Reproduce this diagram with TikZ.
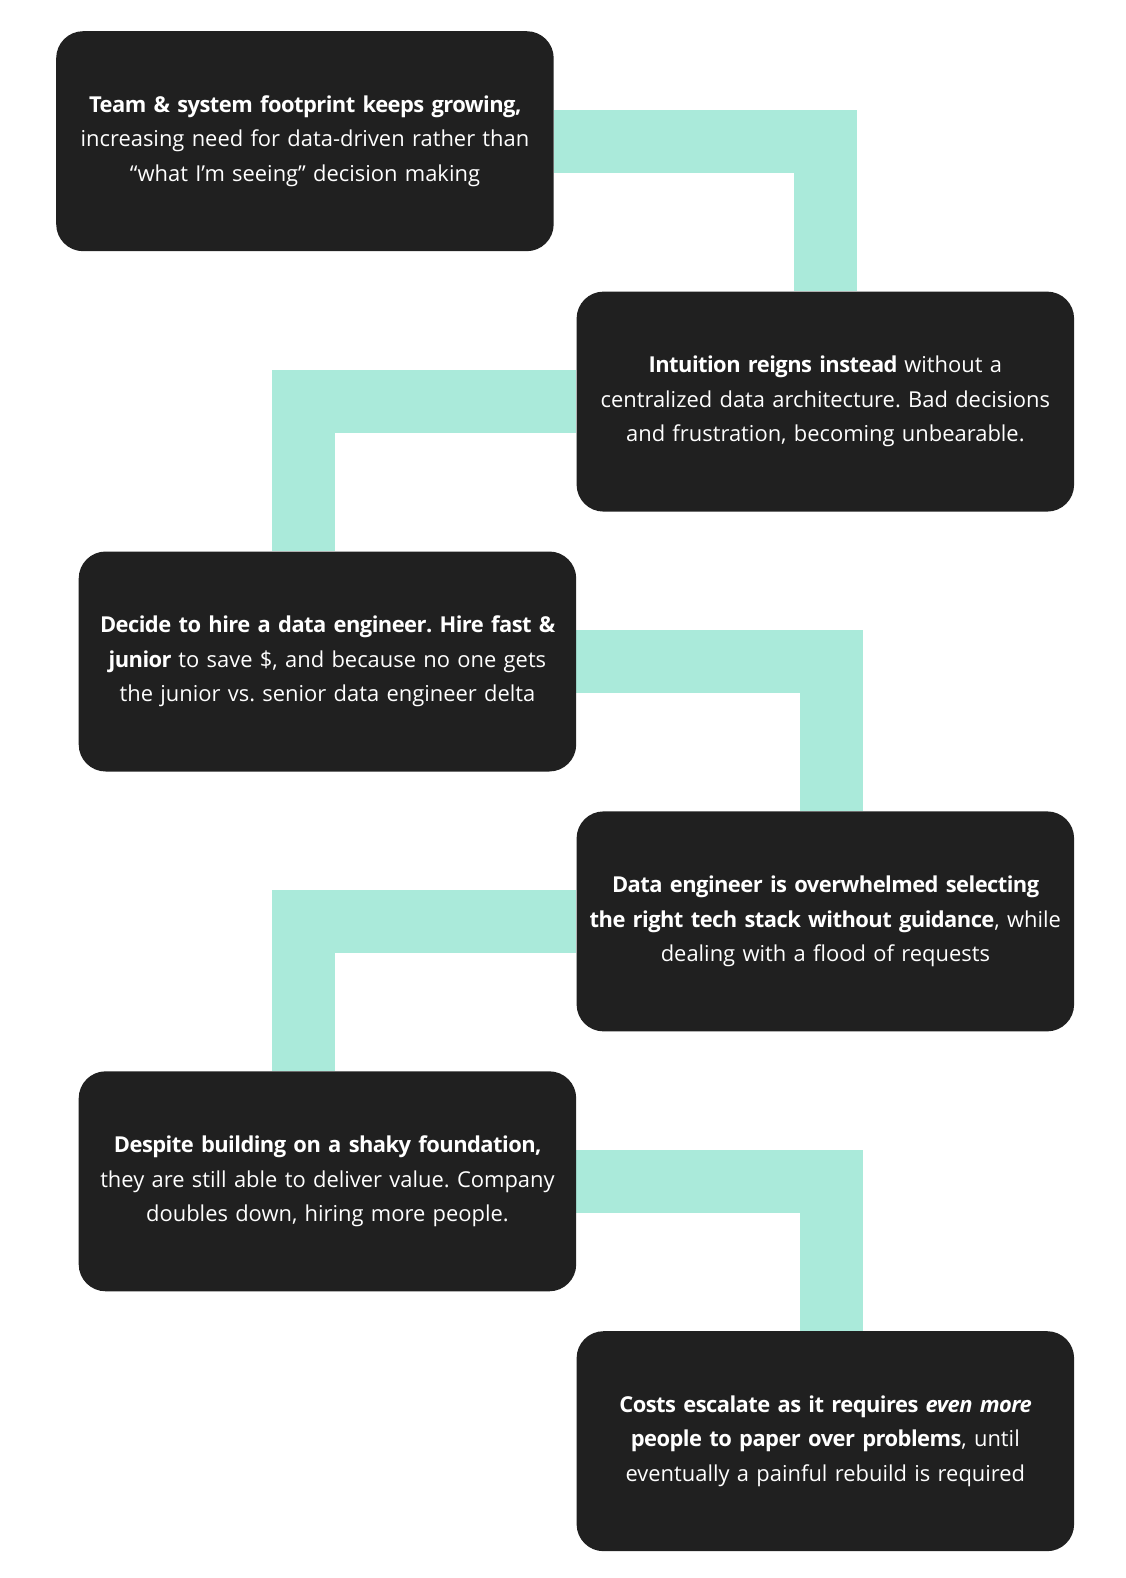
\documentclass[tikz,border=0pt]{standalone}
\usepackage{fontspec}
\setmainfont{Open Sans}[BoldFeatures={LetterSpace=-2.5}, BoldItalicFeatures={LetterSpace=-2.5}]
\frenchspacing
\usetikzlibrary{positioning,calc,backgrounds}
\definecolor{boxdark}{HTML}{202020}
\definecolor{mint}{HTML}{AAEADA}
\tikzset{
   stepbox/.style={fill=boxdark, text=white, rounded corners=27bp,
      minimum width=497.5bp, minimum height=220bp, text width=489.5bp,
      inner sep=4bp, align=center,
      font=\fontsize{22}{34.8}\selectfont},
   link/.style={draw=mint, line width=63bp}
}
\begin{document}
\begin{tikzpicture}
   \useasboundingbox (0,0) rectangle (1126bp,-1578bp);

   % the six steps, zig-zag down the page
   \node[stepbox, anchor=north west] (b1) at (56bp,-31bp)
      {\textbf{Team \& system footprint keeps growing,}\\
       increasing need for data-driven rather than\\
       “what I’m seeing” decision making};
   \node[stepbox, below right=40bp and 22.5bp of b1] (b2)
      {\textbf{Intuition reigns instead} without a\\
       centralized data architecture. Bad decisions\\
       and frustration, becoming unbearable.};
   \node[stepbox, below left=39.5bp and 0bp of b2] (b3)
      {\textbf{Decide to hire a data engineer. Hire fast \&}\\
       \textbf{junior} to save \$, and because no one gets\\
       the junior vs. senior data engineer delta};
   \node[stepbox, below right=39.5bp and 0bp of b3] (b4)
      {\textbf{Data engineer is overwhelmed selecting}\\
       \textbf{the right tech stack without guidance}, while\\
       dealing with a flood of requests};
   \node[stepbox, below left=39.5bp and 0bp of b4] (b5)
      {\textbf{Despite building on a shaky foundation,}\\
       they are still able to deliver value. Company\\
       doubles down, hiring more people.};
   \node[stepbox, below right=39.5bp and 0bp of b5] (b6)
      {\textbf{Costs escalate as it requires \textit{even more}}\\
       \textbf{people to paper over problems}, until\\
       eventually a painful rebuild is required};

   % mint bands behind the boxes
   \begin{scope}[on background layer]
      \draw[link] (b1.east) -| (b2.north);
      \draw[link] (b2.west) -| ([xshift=-23.5bp]b3.north);
      \draw[link] (b3.east) -| ([xshift=6bp]b4.north);
      \draw[link] (b4.west) -| ([xshift=-23.5bp]b5.north);
      \draw[link] (b5.east) -| ([xshift=6bp]b6.north);
   \end{scope}
\end{tikzpicture}
\end{document}
